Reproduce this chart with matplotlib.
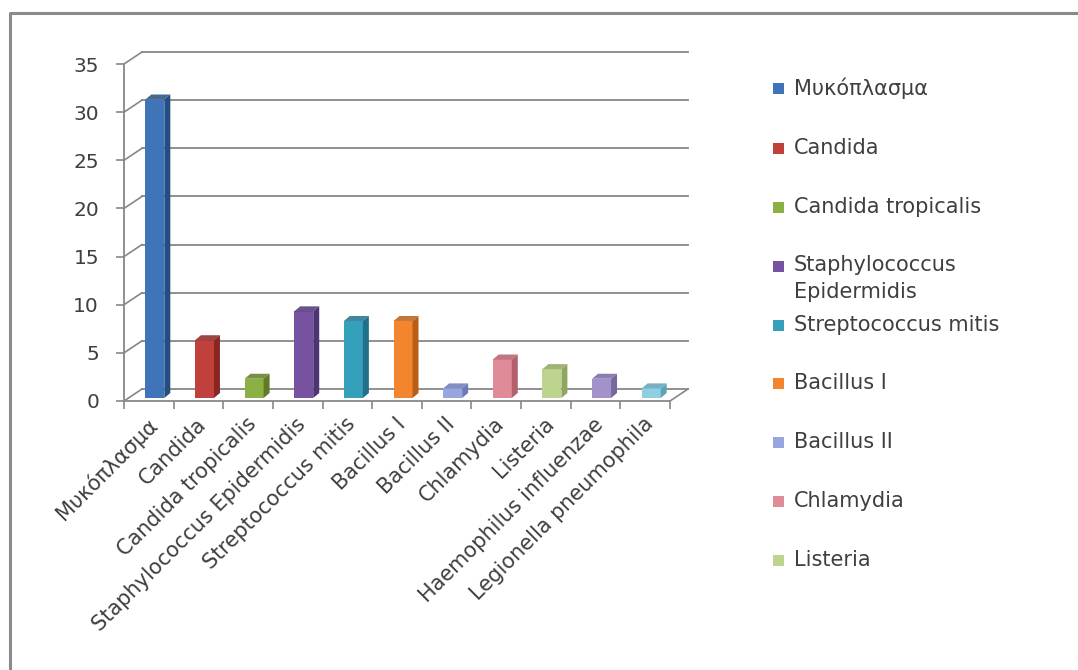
import matplotlib
matplotlib.use("Agg")
import matplotlib.pyplot as plt
from matplotlib.patches import Polygon, Rectangle
from matplotlib.transforms import ScaledTranslation
import numpy as np

plt.rcParams['font.family'] = ['DejaVu Sans']

categories = ["Μυκόπλασμα", "Candida", "Candida tropicalis", "Staphylococcus Epidermidis",
              "Streptococcus mitis", "Bacillus I", "Bacillus II", "Chlamydia", "Listeria",
              "Haemophilus influenzae", "Legionella pneumophila"]
values = [31, 6, 2, 9, 8, 8, 1, 4, 3, 2, 1]
face_colors = ["#3F74B8", "#C0403C", "#8CB043", "#7652A0", "#35A0BC", "#F3852E",
               "#97A6DE", "#E08C98", "#BCD48E", "#A392C9", "#8ECFE2"]
side_colors = ["#244D82", "#8A2522", "#5F7B27", "#4E3475", "#1F7088", "#B85E15",
               "#6C7AB5", "#B4606D", "#8FA65E", "#76679E", "#5FA3B8"]
legend_labels = ["Μυκόπλασμα", "Candida", "Candida tropicalis", "Staphylococcus\nEpidermidis",
                 "Streptococcus mitis", "Bacillus I", "Bacillus II", "Chlamydia", "Listeria"]
y_ticks = [0, 5, 10, 15, 20, 25, 30, 35]

W, H = 1078, 670
fig = plt.figure(figsize=(W / 100, H / 100), dpi=100)
fig.patch.set_facecolor("white")

# overlay in pixel coordinates for frame and legend
ov = fig.add_axes([0, 0, 1, 1], zorder=0)
ov.set_xlim(0, W)
ov.set_ylim(H, 0)
ov.axis("off")
ov.patch.set_alpha(0)

# front plane of the 3D chart
x0, x1, yb, yt = 124, 670, 401, 64
ax = fig.add_axes([x0 / W, (H - yb) / H, (x1 - x0) / W, (yb - yt) / H], zorder=1)
ax.set_xlim(-0.5, len(categories) - 0.5)
ax.set_ylim(0, 35)
ax.patch.set_alpha(0)
for s in ax.spines.values():
    s.set_visible(False)

ux = (x1 - x0) / len(categories)   # pixels per category
uy = (yb - yt) / 35.0              # pixels per unit value

def dxu(px):
    return px / ux

def dyu(px):
    return px / uy

grid_c = "#878787"
text_c = "#3f3f3f"
back_dx, back_dy = dxu(18), dyu(12)
xl, xr = -0.5, len(categories) - 0.5

# back wall gridlines and side-wall diagonals
for v in y_ticks:
    ax.plot([xl + back_dx, xr + back_dx], [v + back_dy, v + back_dy], color=grid_c,
            lw=1.3, clip_on=False, zorder=1)
    ax.plot([xl, xl + back_dx], [v, v + back_dy], color=grid_c, lw=1.2, clip_on=False, zorder=1)
# floor
ax.plot([xl, xr], [0, 0], color=grid_c, lw=1.3, clip_on=False, zorder=1)
ax.plot([xr, xr + back_dx], [0, back_dy], color=grid_c, lw=1.2, clip_on=False, zorder=1)
ax.plot([xl, xl], [0, 35], color=grid_c, lw=1.3, clip_on=False, zorder=1)

# 3D columns
bw = dxu(19)
sh_x, sh_y = dxu(6), dyu(3)
dep_x, dep_y = dxu(6), dyu(5)
xs = np.arange(len(categories))
bars = ax.bar(xs + sh_x, values, width=bw, bottom=sh_y, color=face_colors, zorder=3,
              clip_on=False, linewidth=0)
for i, v in enumerate(values):
    cx = xs[i] + sh_x
    lft, rgt = cx - bw / 2, cx + bw / 2
    top = v + sh_y
    side = Polygon([(rgt, sh_y), (rgt + dep_x, sh_y + dep_y), (rgt + dep_x, top + dep_y),
                    (rgt, top)], closed=True, facecolor=side_colors[i], edgecolor="none",
                   zorder=3, clip_on=False)
    topf = Polygon([(lft, top), (rgt, top), (rgt + dep_x, top + dep_y), (lft + dep_x, top + dep_y)],
                   closed=True, facecolor=side_colors[i], edgecolor="none", alpha=0.85,
                   zorder=3, clip_on=False)
    ax.add_patch(side)
    ax.add_patch(topf)

# axes ticks
ax.set_yticks(y_ticks)
ax.set_yticklabels([str(t) for t in y_ticks], fontsize=14.5, color=text_c)
ax.tick_params(axis="y", length=6, width=1.2, color=grid_c, pad=12, direction="out")
ax.set_xticks(np.arange(-0.5, len(categories), 1.0))
ax.set_xticklabels([])
ax.tick_params(axis="x", length=6, width=1.2, color=grid_c, direction="out")

lab_off = ScaledTranslation(-2 / 100, -13 / 100, fig.dpi_scale_trans)
for i, name in enumerate(categories):
    ax.text(i, 0, name, rotation=45, ha="right", va="top", rotation_mode="anchor",
            fontsize=15, color=text_c, transform=ax.transData + lab_off)

# frame of the chart area
ov.plot([10, 10, W + 5], [H + 5, 13, 13], color="#8a8a8a", lw=2.2)

# legend
leg_y = [88, 148, 207, 266, 325, 383, 442, 501, 560]
for lab, yy, col in zip(legend_labels, leg_y, face_colors):
    ov.add_patch(Rectangle((773, yy - 5.5), 11, 11, facecolor=col, edgecolor="none"))
    if "\n" in lab:
        ov.text(794, yy - 11, lab, fontsize=15, color=text_c, va="top", ha="left",
                linespacing=1.45)
    else:
        ov.text(794, yy, lab, fontsize=15, color=text_c, va="center", ha="left")

fig.savefig("out.png", dpi=100)
